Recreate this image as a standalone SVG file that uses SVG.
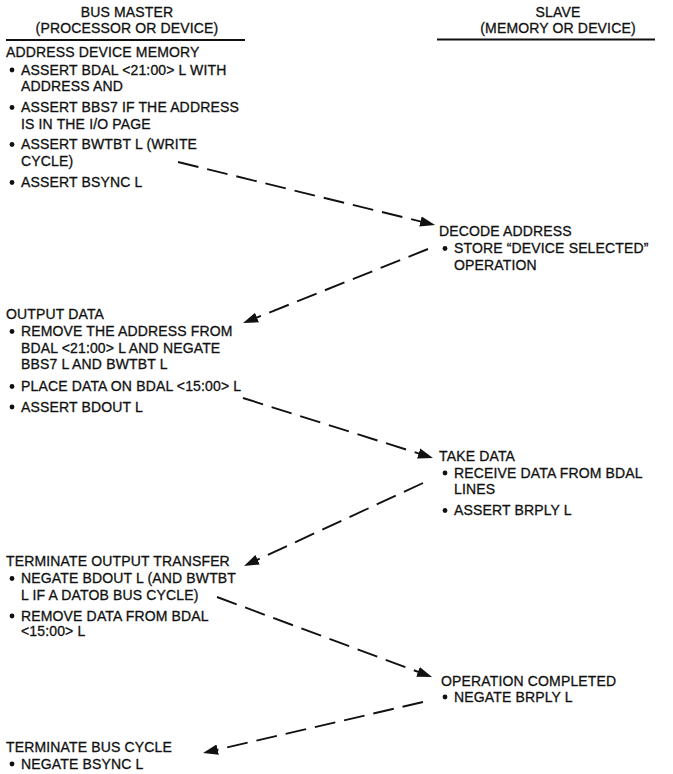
<svg xmlns="http://www.w3.org/2000/svg" width="673" height="774" viewBox="0 0 673 774">
<style>
text{font-family:"Liberation Sans",Arial,Helvetica,sans-serif;font-size:14px;letter-spacing:0.15px;fill:#111;stroke:#111;stroke-width:0.3px}
.c{text-anchor:middle}
.rule{stroke:#111;stroke-width:2}
.dot{fill:#111}
.conn{fill:none;stroke:#111;stroke-width:1.9;stroke-dasharray:21 9}
</style>
<defs>
<marker id="ah" markerUnits="userSpaceOnUse" markerWidth="16" markerHeight="12" viewBox="0 0 16 12" refX="6" refY="6" orient="auto">
<path d="M0,0.8 L15,6 L0,11.2 z" fill="#111"/>
</marker>
</defs>
<rect width="673" height="774" fill="#fff"/>

<g id="header-master">
<text class="c" x="127" y="17">BUS MASTER</text>
<text class="c" x="127" y="33">(PROCESSOR OR DEVICE)</text>
<line class="rule" x1="6" y1="40" x2="245" y2="40"/>
</g>
<g id="header-slave">
<text class="c" x="558" y="17">SLAVE</text>
<text class="c" x="558" y="33">(MEMORY OR DEVICE)</text>
<line class="rule" x1="437" y1="39.5" x2="655" y2="39.5"/>
</g>

<g id="address-device-memory">
<text x="6" y="57">ADDRESS DEVICE MEMORY</text>
<circle class="dot" cx="12" cy="70" r="2.4"/>
<text x="21" y="74.5">ASSERT BDAL &lt;21:00&gt; L WITH</text>
<text x="21" y="91">ADDRESS AND</text>
<circle class="dot" cx="12" cy="107.5" r="2.4"/>
<text x="21" y="112">ASSERT BBS7 IF THE ADDRESS</text>
<text x="21" y="128.5">IS IN THE I/O PAGE</text>
<circle class="dot" cx="12" cy="144.5" r="2.4"/>
<text x="21" y="149">ASSERT BWTBT L (WRITE</text>
<text x="21" y="166">CYCLE)</text>
<circle class="dot" cx="12" cy="182.5" r="2.4"/>
<text x="21" y="187">ASSERT BSYNC L</text>
</g>

<g id="decode-address">
<text x="439" y="236">DECODE ADDRESS</text>
<circle class="dot" cx="445" cy="248.5" r="2.4"/>
<text x="454" y="253">STORE “DEVICE SELECTED”</text>
<text x="454" y="270">OPERATION</text>
</g>

<g id="output-data">
<text x="6" y="319">OUTPUT DATA</text>
<circle class="dot" cx="12" cy="331.5" r="2.4"/>
<text x="21" y="336">REMOVE THE ADDRESS FROM</text>
<text x="21" y="353">BDAL &lt;21:00&gt; L AND NEGATE</text>
<text x="21" y="369">BBS7 L AND BWTBT L</text>
<circle class="dot" cx="12" cy="386.5" r="2.4"/>
<text x="21" y="391">PLACE DATA ON BDAL &lt;15:00&gt; L</text>
<circle class="dot" cx="12" cy="407" r="2.4"/>
<text x="21" y="411.5">ASSERT BDOUT L</text>
</g>

<g id="take-data">
<text x="439" y="460.5">TAKE DATA</text>
<circle class="dot" cx="445" cy="473" r="2.4"/>
<text x="454" y="477.5">RECEIVE DATA FROM BDAL</text>
<text x="454" y="494">LINES</text>
<circle class="dot" cx="445" cy="510.5" r="2.4"/>
<text x="454" y="515">ASSERT BRPLY L</text>
</g>

<g id="terminate-output-transfer">
<text x="6" y="566">TERMINATE OUTPUT TRANSFER</text>
<circle class="dot" cx="12" cy="578.5" r="2.4"/>
<text x="21" y="583">NEGATE BDOUT L (AND BWTBT</text>
<text x="21" y="599.5">L IF A DATOB BUS CYCLE)</text>
<circle class="dot" cx="12" cy="616" r="2.4"/>
<text x="21" y="620.5">REMOVE DATA FROM BDAL</text>
<text x="21" y="636">&lt;15:00&gt; L</text>
</g>

<g id="operation-completed">
<text x="441" y="685.5">OPERATION COMPLETED</text>
<circle class="dot" cx="445" cy="697" r="2.4"/>
<text x="454" y="701.5">NEGATE BRPLY L</text>
</g>

<g id="terminate-bus-cycle">
<text x="6" y="752">TERMINATE BUS CYCLE</text>
<circle class="dot" cx="12" cy="764" r="2.4"/>
<text x="21" y="768.5">NEGATE BSYNC L</text>
</g>

<g id="connectors">
<line class="conn" x1="178" y1="162" x2="426.3" y2="222.9" marker-end="url(#ah)"/>
<line class="conn" x1="428" y1="249" x2="251.4" y2="319.7" marker-end="url(#ah)"/>
<line class="conn" x1="243" y1="398" x2="424.4" y2="455.3" marker-end="url(#ah)"/>
<line class="conn" x1="423" y1="483" x2="252.2" y2="562.2" marker-end="url(#ah)"/>
<line class="conn" x1="217" y1="597" x2="423.6" y2="673.9" marker-end="url(#ah)"/>
<line class="conn" x1="423" y1="702" x2="211.8" y2="751" marker-end="url(#ah)"/>
</g>
</svg>
